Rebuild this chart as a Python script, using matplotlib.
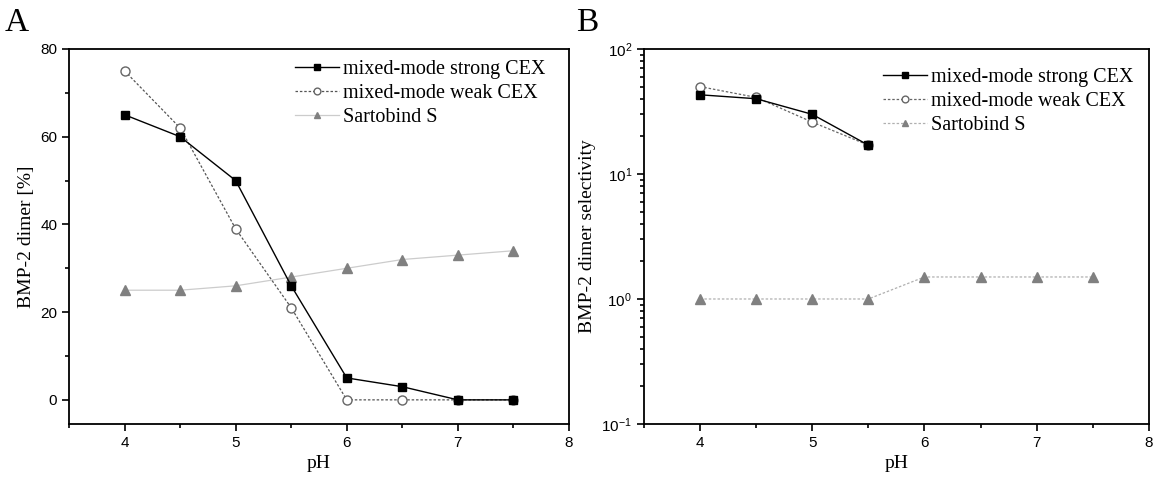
import matplotlib
matplotlib.use("Agg")
import matplotlib.pyplot as plt
import numpy as np
from matplotlib.ticker import MultipleLocator, LogLocator, FuncFormatter, NullFormatter

# data
ph = [4, 4.5, 5, 5.5, 6, 6.5, 7, 7.5]
dimer_strong = [65, 60, 50, 26, 5, 3, 0, 0]
dimer_weak = [75, 62, 39, 21, 0, 0, 0, 0]
dimer_sartobind = [25, 25, 26, 28, 30, 32, 33, 34]

ph_sel = [4, 4.5, 5, 5.5]
sel_strong = [43, 40, 30, 17]
sel_weak = [50, 41, 26, 17]
sel_sartobind = [1, 1, 1, 1, 1.5, 1.5, 1.5, 1.5]

labels = ["mixed-mode strong CEX", "mixed-mode weak CEX", "Sartobind S"]

serif = "Liberation Serif"
sans = "Liberation Sans"

plt.rcParams["mathtext.fontset"] = "custom"
plt.rcParams["mathtext.rm"] = sans

fig = plt.figure(figsize=(11.56, 4.84), dpi=100)
ax1 = fig.add_axes([0.0597, 0.124, 0.4325, 0.7748])
ax2 = fig.add_axes([0.557, 0.124, 0.4369, 0.7748])


def style_axis(ax):
    for s in ax.spines.values():
        s.set_linewidth(1.3)
    ax.tick_params(which="both", direction="out", top=False, right=False,
                   width=1.2, labelsize=11)
    ax.tick_params(which="major", length=5)
    ax.tick_params(which="minor", length=3)
    for lab in ax.get_xticklabels() + ax.get_yticklabels():
        lab.set_fontfamily(sans)
    ax.set_xlim(3.5, 8)
    ax.xaxis.set_major_locator(MultipleLocator(1))
    ax.xaxis.set_minor_locator(MultipleLocator(0.5))
    ax.set_xlabel("pH", fontfamily=serif, fontsize=14, labelpad=4)


# panel A
ax1.plot(ph, dimer_sartobind, color="#cccccc", lw=0.9, marker="^", ms=6.5,
         mfc="#808080", mec="#808080", label=labels[2], zorder=2)
ax1.plot(ph, dimer_weak, color="#555555", lw=0.9, ls=(0, (2, 1.5)), marker="o", ms=6.5,
         mfc="white", mec="#666666", label=labels[1], zorder=3)
ax1.plot(ph, dimer_strong, color="black", lw=1.0, marker="s", ms=5.5,
         mfc="black", mec="black", label=labels[0], zorder=4)
ax1.set_ylim(-5.5, 80)
ax1.yaxis.set_major_locator(MultipleLocator(20))
ax1.yaxis.set_minor_locator(MultipleLocator(10))
ax1.set_ylabel("BMP-2 dimer [%]", fontfamily=serif, fontsize=14)
style_axis(ax1)

# panel B
ax2.plot(ph, sel_sartobind, color="#b0b0b0", lw=0.9, ls=(0, (2, 1.5)), marker="^", ms=6.5,
         mfc="#808080", mec="#808080", label=labels[2], zorder=2)
ax2.plot(ph_sel, sel_weak, color="#666666", lw=0.9, ls=(0, (2, 1.5)), marker="o", ms=6.5,
         mfc="white", mec="#666666", label=labels[1], zorder=3)
ax2.plot(ph_sel, sel_strong, color="black", lw=1.0, marker="s", ms=5.5,
         mfc="black", mec="black", label=labels[0], zorder=4)
ax2.set_yscale("log")
ax2.set_ylim(0.1, 100)
ax2.yaxis.set_major_locator(LogLocator(base=10, numticks=10))
ax2.yaxis.set_minor_locator(LogLocator(base=10, subs=np.arange(2, 10), numticks=20))
ax2.yaxis.set_minor_formatter(NullFormatter())
ax2.yaxis.set_major_formatter(FuncFormatter(
    lambda v, p: r"$\mathregular{10^{%d}}$" % int(round(np.log10(v)))))
ax2.set_ylabel("BMP-2 dimer selectivity", fontfamily=serif, fontsize=14)
style_axis(ax2)

for ax, x0, y0 in ((ax1, 0.452, 0.972), (ax2, 0.473, 0.95)):
    h, l = ax.get_legend_handles_labels()
    ax.legend(h[::-1], l[::-1], loc="upper left", bbox_to_anchor=(x0, y0),
              frameon=False, prop={"family": serif, "size": 14.5},
              handlelength=2.2, handletextpad=0.2, labelspacing=0.25,
              borderpad=0, borderaxespad=0, markerscale=0.75)

fig.text(0.004, 0.985, "A", fontfamily=serif, fontsize=24, va="top", ha="left")
fig.text(0.498, 0.985, "B", fontfamily=serif, fontsize=24, va="top", ha="left")

fig.savefig("out.png", dpi=100)
